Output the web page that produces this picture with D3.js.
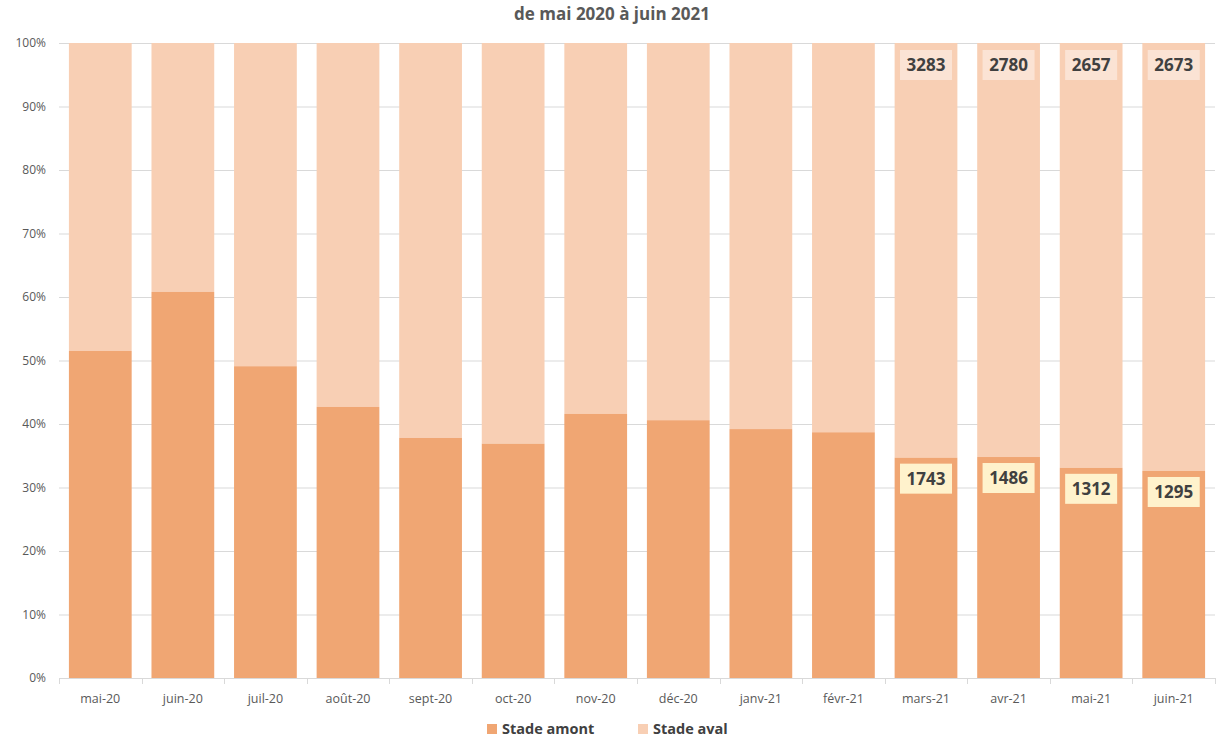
<!DOCTYPE html>
<html><head><meta charset="utf-8">
<script src="https://cdn.jsdelivr.net/npm/d3@7"></script>
<style>body{margin:0;background:#fff;} svg{display:block;font-family:"Open Sans",sans-serif;}</style>
</head><body>
<svg id="c" width="1216" height="738"></svg>
<script>
const categories = ["mai-20","juin-20","juil-20","août-20","sept-20","oct-20","nov-20","déc-20","janv-21","févr-21","mars-21","avr-21","mai-21","juin-21"];
const amontShare = [51.5,60.8,49.1,42.7,37.8,36.9,41.6,40.6,39.2,38.7,34.7,34.8,33.1,32.6];
const amontLabels = [null,null,null,null,null,null,null,null,null,null,1743,1486,1312,1295];
const avalLabels  = [null,null,null,null,null,null,null,null,null,null,3283,2780,2657,2673];
const yTicks = [0,10,20,30,40,50,60,70,80,90,100];
const seriesNames = ["Stade amont","Stade aval"];
const colors = ["#F0A673","#F8CFB4"];

const svg = d3.select("#c");
const x0 = 59, x1 = 1215, yTop = 43, yBot = 678;
const x = d3.scaleBand().domain(categories).range([x0,x1]).paddingInner(0.24).paddingOuter(0.12);
const y = d3.scaleLinear().domain([0,100]).range([yBot,yTop]);

// title
svg.append("text").attr("x",612).attr("y",20).attr("text-anchor","middle")
  .attr("font-size",17).attr("font-weight","bold").attr("fill","#595959").text("de mai 2020 à juin 2021");

// gridlines
svg.append("g").selectAll("line").data(yTicks.filter(d=>d>0)).join("line")
  .attr("x1",x0).attr("x2",x1).attr("y1",d=>y(d)+0.5).attr("y2",d=>y(d)+0.5)
  .attr("stroke","#D9D9D9").attr("stroke-width",1);

// y labels
svg.append("g").selectAll("text").data(yTicks).join("text")
  .attr("x",46).attr("y",d=>y(d)+4).attr("text-anchor","end")
  .attr("font-size",12).attr("fill","#595959").text(d=>d+"%");

// bars
const g = svg.append("g");
categories.forEach((c,i)=>{
  g.append("rect").attr("x",x(c)).attr("width",x.bandwidth())
    .attr("y",y(100)).attr("height",y(amontShare[i])-y(100)).attr("fill",colors[1]);
  g.append("rect").attr("x",x(c)).attr("width",x.bandwidth())
    .attr("y",y(amontShare[i])).attr("height",yBot-y(amontShare[i])).attr("fill",colors[0]);
});

// x axis
const axis = svg.append("g");
axis.append("line").attr("x1",x0).attr("x2",x1).attr("y1",yBot+0.5).attr("y2",yBot+0.5).attr("stroke","#D9D9D9");
d3.range(categories.length+1).forEach(i=>{
  const xx = Math.round(x0 + i*(x1-x0)/categories.length)+0.5;
  axis.append("line").attr("x1",xx).attr("x2",xx).attr("y1",yBot).attr("y2",yBot+6).attr("stroke","#D9D9D9");
});
axis.selectAll("text.xl").data(categories).join("text").attr("class","xl")
  .attr("x",d=>x(d)+x.bandwidth()/2).attr("y",703).attr("text-anchor","middle")
  .attr("font-size",12.5).attr("fill","#595959").text(d=>d);

// data labels
const lab = svg.append("g");
categories.forEach((c,i)=>{
  const cx = x(c)+x.bandwidth()/2;
  if(avalLabels[i]!=null){
    const cy = y(100)+22;
    lab.append("rect").attr("x",cx-26).attr("y",cy-15).attr("width",52).attr("height",30).attr("fill","#FBE3D4");
    lab.append("text").attr("x",cx).attr("y",cy+6).attr("text-anchor","middle")
      .attr("font-size",17).attr("font-weight","bold").attr("fill","#404040").text(avalLabels[i]);
  }
  if(amontLabels[i]!=null){
    const cy = y(amontShare[i])+21;
    lab.append("rect").attr("x",cx-26).attr("y",cy-15).attr("width",52).attr("height",30).attr("fill","#FFF2CC");
    lab.append("text").attr("x",cx).attr("y",cy+6).attr("text-anchor","middle")
      .attr("font-size",17).attr("font-weight","bold").attr("fill","#404040").text(amontLabels[i]);
  }
});

// legend
const leg = svg.append("g");
const legX = [487,638];
seriesNames.forEach((n,i)=>{
  leg.append("rect").attr("x",legX[i]).attr("y",724).attr("width",10).attr("height",10).attr("fill",colors[i]);
  leg.append("text").attr("x",legX[i]+15).attr("y",734).attr("font-size",14.5).attr("font-weight","bold")
    .attr("fill","#404040").text(n);
});
</script>
</body></html>
